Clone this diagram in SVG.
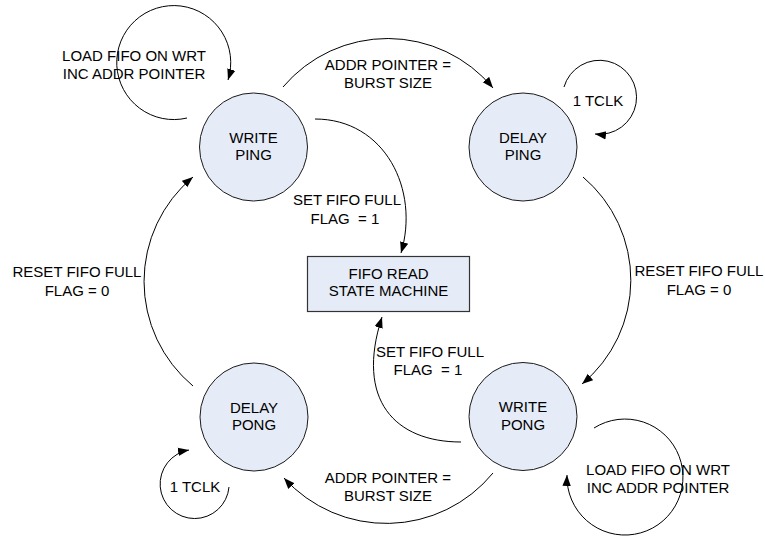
<svg xmlns="http://www.w3.org/2000/svg" width="765" height="537" viewBox="0 0 765 537">
  <style>
    .state { fill: #E6ECF7; stroke: #1a1a1a; stroke-width: 1; }
    .box { fill: #E6ECF7; stroke: #333333; stroke-width: 1.2; }
    .lbl { font-family: "Liberation Sans", Arial, sans-serif; font-size: 15px; fill: #000; text-anchor: middle; }
    .edge { fill: none; stroke: #000; stroke-width: 1; marker-end: url(#arrow); }
  </style>
  <defs>
    <marker id="arrow" markerUnits="userSpaceOnUse" markerWidth="12" markerHeight="10" viewBox="0 0 12 10" refX="11" refY="5" orient="auto">
      <path d="M0,0.8 L11,5 L0,9.2 Z" fill="#000"/>
    </marker>
  </defs>
  <rect width="765" height="537" fill="#ffffff"/>

  <!-- transitions -->
  <g id="connectors">
    <!-- write ping -> delay ping -->
    <path class="edge" d="M283,87 A137,137 0 0 1 493,88"/>
    <!-- delay ping -> write pong -->
    <path class="edge" d="M583,177 A135,135 0 0 1 582,384"/>
    <!-- write pong -> delay pong -->
    <path class="edge" d="M493,473 A138,138 0 0 1 284,478"/>
    <!-- delay pong -> write ping -->
    <path class="edge" d="M193,386 A136,136 0 0 1 193,177"/>
    <!-- write ping -> read state machine -->
    <path class="edge" d="M315,119 C385,119 420,190 401,253"/>
    <!-- write pong -> read state machine -->
    <path class="edge" d="M461,442 C395,442 355,400 382,317"/>
    <!-- self loops -->
    <path class="edge" d="M187,118 A57,57 0 1 1 228,80"/>
    <path class="edge" d="M564,87 A37,37 0 1 1 595,134"/>
    <path class="edge" d="M594,428 A58,58 0 1 1 567,475"/>
    <path class="edge" d="M229,487 A34.5,34.5 0 1 1 189,450"/>
  </g>

  <!-- transition labels -->
  <g id="labels">
    <text class="lbl" x="134" y="61">LOAD FIFO ON WRT</text>
    <text class="lbl" x="134" y="79">INC ADDR POINTER</text>
    <text class="lbl" x="388" y="70">ADDR POINTER =</text>
    <text class="lbl" x="388" y="88">BURST SIZE</text>
    <text class="lbl" x="598" y="106">1 TCLK</text>
    <text class="lbl" x="347" y="205" xml:space="preserve">SET FIFO FULL</text>
    <text class="lbl" x="345" y="224" xml:space="preserve">FLAG  = 1</text>
    <text class="lbl" x="699" y="276">RESET FIFO FULL</text>
    <text class="lbl" x="699" y="295">FLAG = 0</text>
    <text class="lbl" x="77" y="277">RESET FIFO FULL</text>
    <text class="lbl" x="77" y="296">FLAG = 0</text>
    <text class="lbl" x="430" y="357" xml:space="preserve">SET FIFO FULL</text>
    <text class="lbl" x="428" y="375" xml:space="preserve">FLAG  = 1</text>
    <text class="lbl" x="388" y="483">ADDR POINTER =</text>
    <text class="lbl" x="388" y="501">BURST SIZE</text>
    <text class="lbl" x="658" y="475">LOAD FIFO ON WRT</text>
    <text class="lbl" x="658" y="493">INC ADDR POINTER</text>
    <text class="lbl" x="195" y="492">1 TCLK</text>
  </g>

  <!-- states -->
  <g id="write-ping">
    <circle class="state" cx="253.5" cy="147" r="54"/>
    <text class="lbl" x="253.5" y="142.5">WRITE</text>
    <text class="lbl" x="253.5" y="160">PING</text>
  </g>
  <g id="delay-ping">
    <circle class="state" cx="523" cy="147" r="54"/>
    <text class="lbl" x="523" y="142.5">DELAY</text>
    <text class="lbl" x="523" y="160">PING</text>
  </g>
  <g id="delay-pong">
    <circle class="state" cx="254" cy="417" r="54"/>
    <text class="lbl" x="254" y="412.5">DELAY</text>
    <text class="lbl" x="254" y="430">PONG</text>
  </g>
  <g id="write-pong">
    <circle class="state" cx="523" cy="416.5" r="54"/>
    <text class="lbl" x="523" y="412">WRITE</text>
    <text class="lbl" x="523" y="429.5">PONG</text>
  </g>
  <g id="fifo-read">
    <rect class="box" x="307.5" y="256.5" width="162" height="55"/>
    <text class="lbl" x="388.5" y="279">FIFO READ</text>
    <text class="lbl" x="388.5" y="296">STATE MACHINE</text>
  </g>
</svg>
